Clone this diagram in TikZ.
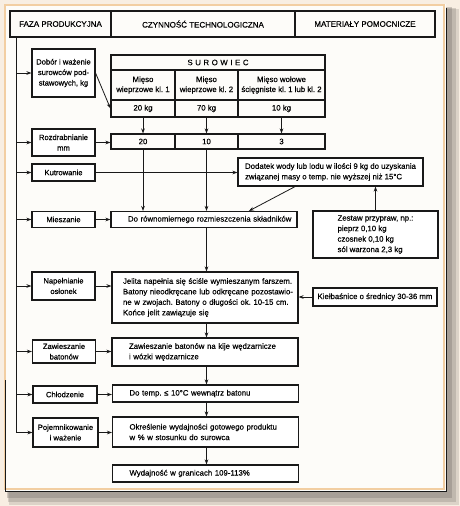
\documentclass[tikz,border=0pt]{standalone}
\usepackage{fontspec}
\setmainfont{Liberation Sans}[FakeBold=0.3]
\frenchspacing
\usetikzlibrary{positioning}
\usetikzlibrary{arrows.meta}
\usetikzlibrary{calc}
\definecolor{ramkaTlo}{RGB}{248,238,226}
\definecolor{ramkaKarta}{RGB}{253,252,249}
\definecolor{ramkaBrzeg}{RGB}{242,206,162}
\definecolor{ramkaCien}{RGB}{110,104,98}
\definecolor{kreska}{RGB}{25,25,25}
\tikzset{
  naglowek/.style={
    rectangle, draw=kreska, line width=1.1pt, minimum height=26pt,
    align=center, font=\fontsize{8}{10}\selectfont, inner sep=1pt
  },
  faza/.style={
    rectangle, draw=kreska, line width=1.1pt, fill=white,
    minimum width=63pt, align=center,
    font=\fontsize{7.6}{10.5}\selectfont, inner sep=1pt
  },
  proces/.style={
    rectangle, draw=kreska, line width=1.1pt, fill=white,
    text width=186pt, inner xsep=0pt, inner ysep=1pt, align=left,
    font=\fontsize{7.8}{10.5}\selectfont,
    execute at begin node={\leftskip=17pt}
  },
  komorka/.style={
    rectangle, draw=kreska, line width=1.1pt, align=center,
    font=\fontsize{7.8}{10}\selectfont, inner sep=0pt
  },
  dodatek/.style={
    rectangle, draw=kreska, line width=1.1pt, fill=white, align=left,
    font=\fontsize{7.8}{10.5}\selectfont, inner sep=1pt
  },
  strzalka/.style={-{Stealth[length=5pt,width=3.6pt]}, line width=0.8pt, draw=kreska},
  linia/.style={line width=0.8pt, draw=kreska}
}

\begin{document}
\begin{tikzpicture}[x=1pt, y=-1pt]
  \useasboundingbox (0,0) rectangle (460,506);
  % tlo i ramka
  \fill[ramkaTlo] (0,0) rectangle (460,506);
  \fill[ramkaCien, opacity=0.20] (9,9) rectangle (459,505);
  \fill[ramkaCien, opacity=0.25] (8,8) rectangle (456,502);
  \fill[ramkaCien, opacity=0.30] (7,7) rectangle (452,498);
  \fill[ramkaKarta] (4,4) rectangle (446,491);
  \draw[ramkaBrzeg, line width=2.5pt] (5,5) rectangle (444,489);
  \draw[kreska, line width=1pt] (5,380) -- (5,491) -- (446,491) -- (446,8);

  % naglowek
  \node[naglowek, minimum width=101pt] (faza) at (60.5,24) {FAZA PRODUKCYJNA};
  \node[naglowek, minimum width=184pt] (czynnosc) at (203,24) {CZYNNOŚĆ TECHNOLOGICZNA};
  \node[naglowek, minimum width=140pt] (materialy) at (365,24) {MATERIAŁY POMOCNICZE};

  % fazy produkcyjne
  \node[faza, minimum height=48pt] (dobor) at (63.5,73) {Dobór i ważenie\\surowców pod-\\stawowych, kg};
  \node[faza, minimum height=27pt] (rozdr) at (63.5,142.5) {Rozdrabnianie\\mm};
  \node[faza, minimum height=17pt] (kutr) at (63.5,172.5) {Kutrowanie};
  \node[faza, minimum height=16pt] (miesz) at (63.5,219.5) {Mieszanie};
  \node[faza, minimum height=28pt] (napel) at (63.5,286) {Napełnianie\\osłonek};
  \node[faza, minimum height=23pt] (zawiesz) at (64,351.5) {Zawieszanie\\batonów};
  \node[faza, minimum height=17pt, minimum width=64pt] (chlodz) at (65,394.5) {Chłodzenie};
  \node[faza, minimum height=29pt, minimum width=65pt] (pojem) at (65.5,432.5) {Pojemnikowanie\\i ważenie};

  % surowiec
  \node[komorka, minimum width=214pt, minimum height=15pt] (sur) at (218,62.5) {S\,\,U\,\,R\,\,O\,\,W\,\,I\,\,E\,\,C};
  \node[komorka, minimum width=64pt, minimum height=30pt] (m1) at (143,85) {Mięso\\wieprzowe kl. 1};
  \node[komorka, minimum width=63pt, minimum height=30pt] (m2) at (206.5,85) {Mięso\\wieprzowe kl. 2};
  \node[komorka, minimum width=87pt, minimum height=30pt] (m3) at (281.5,85) {Mięso wołowe\\ścięgniste kl. 1 lub kl. 2};
  \node[komorka, minimum width=64pt, minimum height=17pt] (k1) at (143,108.5) {20 kg};
  \node[komorka, minimum width=63pt, minimum height=17pt] (k2) at (206.5,108.5) {70 kg};
  \node[komorka, minimum width=87pt, minimum height=17pt] (k3) at (281.5,108.5) {10 kg};
  \node[komorka, minimum width=64pt, minimum height=15pt] (r1) at (143,141.5) {20};
  \node[komorka, minimum width=63pt, minimum height=15pt] (r2) at (206.5,141.5) {10};
  \node[komorka, minimum width=87pt, minimum height=15pt] (r3) at (281.5,141.5) {3};

  % czynnosci
  \node[proces, minimum height=16pt] (mieszP) at (204,219.5) {Do równomiernego rozmieszczenia składników};
  \node[proces, minimum height=51pt, execute at begin node={\leftskip=11pt}] (jelita) at (205,297.5) {Jelita napełnia się ściśle wymieszanym farszem.\\Batony nieodkręcane lub odkręcane pozostawio-\\ne w zwojach. Batony o długości ok. 10-15 cm.\\Końce jelit zawiązuje się};
  \node[proces, minimum height=28pt] (zawP) at (205,352) {Zawieszanie batonów na kije wędzarnicze\\i wózki wędzarnicze};
  \node[proces, minimum height=17pt] (chlP) at (205.5,393.5) {Do temp. ≤ 10°C wewnątrz batonu};
  \node[proces, minimum height=30pt] (okrP) at (205.5,432) {Określenie wydajności gotowego produktu\\w \% w stosunku do surowca};
  \node[proces, minimum height=17pt] (wydP) at (205.5,473.5) {Wydajność w granicach 109-113\%};

  % materialy pomocnicze
  \node[dodatek, minimum width=185pt, minimum height=28pt] (woda) at (330.5,172) {Dodatek wody lub lodu w ilości 9 kg do uzyskania\\związanej masy o temp. nie wyższej niż 15°C};
  \node[dodatek, minimum width=125pt, minimum height=47pt, inner xsep=8pt] (przyprawy) at (375.5,234.5) {Zestaw przypraw, np.:\\pieprz 0,10 kg\\czosnek 0,10 kg\\sól warzona 2,3 kg};
  \node[dodatek, minimum width=124pt, minimum height=18pt] (kielb) at (375,297) {Kiełbaśnice o średnicy 30-36 mm};

  % linia fazy
  \coordinate (lewa) at (16,37);
  \draw[strzalka] (lewa) |- (pojem.west);
  \foreach \f in {dobor,rozdr,kutr,miesz,napel,zawiesz,chlodz}
    \draw[strzalka] (lewa |- \f.west) -- (\f.west);

  % polaczenia
  \draw[strzalka] (dobor.east) -- (k1.west);
  \draw[strzalka] (k1) -- (r1);
  \draw[strzalka] (k2) -- (r2);
  \draw[strzalka] (k3) -- (r3);
  \draw[strzalka] (rozdr.east) -- (rozdr.east -| r1.west);
  \draw[strzalka] (r1.south) -- (mieszP.north -| r1.south);
  \draw[strzalka] (r2.south) -- (mieszP.north -| r2.south);
  \draw[strzalka] (kutr.east) -- (kutr.east -| woda.west);
  \draw[strzalka] ($(woda.south west)!0.31!(woda.south east)$) -- ($(mieszP.north west)!0.74!(mieszP.north east)$);
  \draw[strzalka] (przyprawy.north) -- (woda.south -| przyprawy.north);
  \draw[strzalka] (miesz.east) -- (miesz.east -| mieszP.west);
  \draw[strzalka] (mieszP.south -| r2.south) -- (jelita.north -| r2.south);
  \draw[strzalka] (napel.east) -- (napel.east -| jelita.west);
  \draw[strzalka] (kielb.west) -- (kielb.west -| jelita.east);
  \draw[strzalka] (jelita.south -| r2.south) -- (zawP.north -| r2.south);
  \draw[strzalka] (zawiesz.east) -- (zawiesz.east -| zawP.west);
  \draw[strzalka] (zawP.south -| r2.south) -- (chlP.north -| r2.south);
  \draw[strzalka] (chlodz.east) -- (chlodz.east -| chlP.west);
  \draw[strzalka] (chlP.south -| r2.south) -- (okrP.north -| r2.south);
  \draw[strzalka] (pojem.east) -- (pojem.east -| okrP.west);
  \draw[strzalka] (okrP.south -| r2.south) -- (wydP.north -| r2.south);
\end{tikzpicture}
\end{document}
